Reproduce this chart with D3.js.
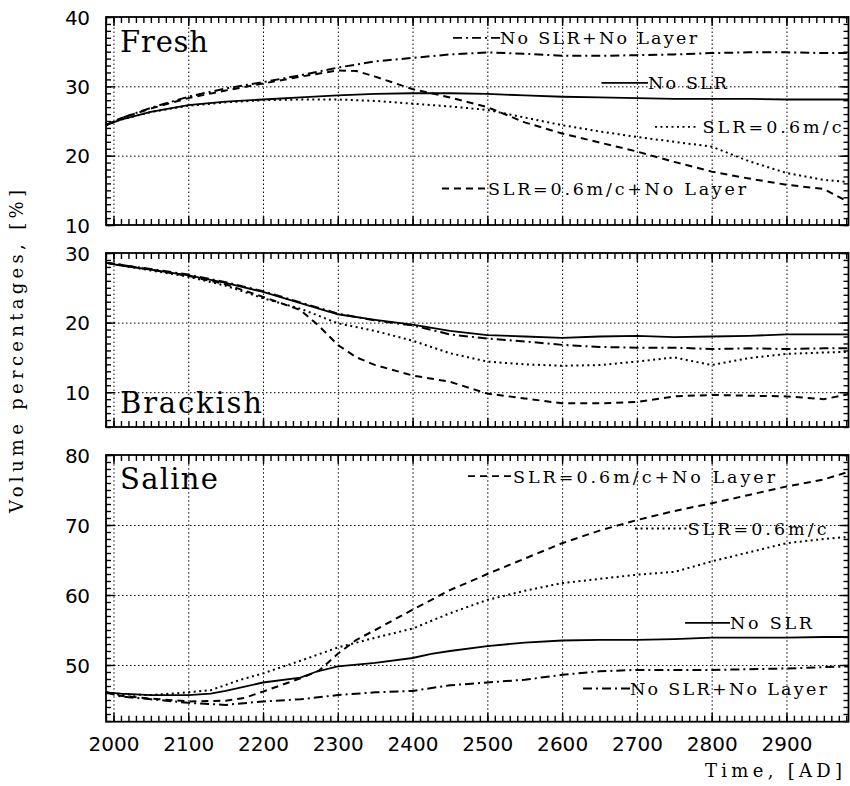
<!DOCTYPE html>
<html>
<head>
<meta charset="utf-8">
<script src="https://cdn.jsdelivr.net/npm/d3@7"></script>
<style>
  body { margin: 0; background: #fff; }
  svg { display: block; }
</style>
</head>
<body>
<svg width="850" height="786"></svg>
<script>
// ---- data ----
const seriesNames = ['No SLR', 'SLR=0.6m/c', 'SLR=0.6m/c+No Layer', 'No SLR+No Layer'];
const xTickYears = [2000, 2100, 2200, 2300, 2400, 2500, 2600, 2700, 2800, 2900];

// Fresh
const freshNoSLR = [[1990,24.4],[2010,25.2],[2050,26.3],[2100,27.3],[2150,27.8],[2200,28.1],[2250,28.4],[2300,28.7],[2350,28.9],[2400,29.0],[2450,29.0],[2500,28.9],[2550,28.7],[2600,28.5],[2650,28.4],[2700,28.3],[2750,28.2],[2800,28.2],[2850,28.2],[2900,28.1],[2950,28.1],[2983,28.1]];
const freshSLR = [[1990,24.4],[2010,25.2],[2050,26.3],[2100,27.2],[2150,27.7],[2200,28.0],[2250,28.1],[2300,28.1],[2350,27.9],[2400,27.5],[2450,27.1],[2500,26.6],[2550,25.5],[2600,24.4],[2650,23.5],[2700,22.7],[2750,22.0],[2800,21.3],[2850,19.2],[2900,17.5],[2950,16.5],[2983,16.2]];
const freshSLRNoLayer = [[1990,24.4],[2010,25.4],[2050,26.8],[2100,28.3],[2150,29.4],[2200,30.4],[2250,31.4],[2300,32.3],[2325,32.2],[2350,31.4],[2375,30.5],[2400,29.6],[2450,28.4],[2500,27.0],[2550,24.8],[2600,23.2],[2650,21.9],[2700,20.6],[2750,19.1],[2800,17.7],[2850,16.7],[2900,15.8],[2950,15.2],[2983,13.3]];
const freshNoSLRNoLayer = [[1990,24.4],[2010,25.4],[2050,26.9],[2100,28.5],[2150,29.7],[2200,30.6],[2250,31.6],[2300,32.7],[2350,33.6],[2400,34.1],[2450,34.6],[2500,34.9],[2550,34.7],[2600,34.4],[2650,34.4],[2700,34.5],[2750,34.6],[2800,34.8],[2850,34.9],[2900,34.9],[2950,34.8],[2983,34.8]];

// Brackish
const brackNoSLR = [[1990,28.6],[2010,28.2],[2050,27.6],[2100,26.8],[2150,25.7],[2200,24.4],[2250,22.8],[2300,21.2],[2350,20.4],[2400,19.7],[2450,18.8],[2500,18.2],[2550,18.0],[2600,17.8],[2650,18.0],[2700,18.1],[2750,17.9],[2800,18.0],[2850,18.1],[2900,18.3],[2950,18.3],[2983,18.3]];
const brackSLR = [[1990,28.6],[2010,28.2],[2050,27.5],[2100,26.6],[2150,25.3],[2200,23.5],[2250,22.0],[2300,19.9],[2350,18.8],[2400,17.4],[2450,15.6],[2500,14.4],[2550,14.0],[2600,13.8],[2650,13.9],[2700,14.4],[2750,15.0],[2800,13.9],[2850,14.9],[2900,15.5],[2950,15.7],[2983,15.8]];
const brackSLRNoLayer = [[1990,28.6],[2010,28.3],[2050,27.6],[2100,26.7],[2150,25.5],[2200,23.7],[2250,21.8],[2275,19.5],[2300,16.8],[2325,15.0],[2350,13.9],[2400,12.4],[2450,11.5],[2500,9.8],[2550,9.1],[2600,8.4],[2650,8.4],[2700,8.6],[2750,9.4],[2800,9.6],[2850,9.5],[2900,9.4],[2950,9.0],[2983,9.7]];
const brackNoSLRNoLayer = [[1990,28.6],[2010,28.3],[2050,27.7],[2100,26.9],[2150,25.8],[2200,24.5],[2250,22.9],[2300,21.3],[2350,20.3],[2400,19.6],[2450,18.3],[2500,17.7],[2550,17.3],[2600,16.8],[2650,16.5],[2700,16.4],[2750,16.4],[2800,16.2],[2850,16.3],[2900,16.2],[2950,16.3],[2983,16.3]];

// Saline
const salNoSLR = [[1990,46.1],[2010,45.9],[2050,45.7],[2100,45.7],[2130,45.9],[2150,46.3],[2200,47.5],[2250,48.2],[2270,49.0],[2300,49.8],[2350,50.3],[2400,51.0],[2425,51.6],[2450,52.0],[2500,52.7],[2550,53.2],[2600,53.5],[2650,53.6],[2700,53.6],[2750,53.7],[2800,53.9],[2850,53.9],[2900,53.9],[2950,54.0],[2983,54.0]];
const salSLR = [[1990,46.1],[2010,45.8],[2050,45.7],[2100,46.1],[2130,46.4],[2170,47.9],[2200,48.8],[2250,50.6],[2300,52.5],[2350,53.9],[2400,55.2],[2450,57.4],[2500,59.3],[2550,60.6],[2600,61.7],[2650,62.3],[2700,62.9],[2750,63.3],[2800,64.8],[2850,66.1],[2900,67.4],[2950,68.0],[2983,68.3]];
const salSLRNoLayer = [[1990,46.1],[2010,45.6],[2050,45.2],[2100,44.8],[2150,44.9],[2175,45.3],[2200,46.2],[2250,48.1],[2275,49.2],[2300,51.6],[2325,53.6],[2350,55.0],[2400,57.9],[2450,60.7],[2500,63.0],[2550,65.2],[2600,67.4],[2650,69.2],[2700,70.7],[2750,72.0],[2800,73.1],[2850,74.3],[2900,75.5],[2950,76.5],[2983,77.6]];
const salNoSLRNoLayer = [[1990,46.1],[2010,45.5],[2050,45.1],[2100,44.6],[2150,44.3],[2200,44.8],[2250,45.1],[2300,45.7],[2350,46.1],[2400,46.3],[2450,47.1],[2500,47.5],[2550,47.9],[2600,48.6],[2650,49.1],[2700,49.3],[2750,49.3],[2800,49.3],[2850,49.4],[2900,49.5],[2950,49.7],[2983,49.8]];

// ---- layout ----
const svg = d3.select('svg');
const left = 106, right = 848.5;
const serif = '"DejaVu Serif", "Liberation Serif", serif';
const sans = '"DejaVu Sans", "Liberation Sans", sans-serif';

const x = d3.scaleLinear().domain([1990, 2983]).range([left, right]);

const dash = {
  'No SLR': null,
  'SLR=0.6m/c': '2,3.5',
  'SLR=0.6m/c+No Layer': '7,5',
  'No SLR+No Layer': '9,4,2,4'
};

const panels = [
  { title: 'Fresh', titleY: 51.5, titleW: 88, top: 17, bottom: 225, domain: [10, 40], ticks: [10, 20, 30, 40],
    series: [freshNoSLR, freshSLR, freshSLRNoLayer, freshNoSLRNoLayer],
    legend: [
      { name: 'No SLR+No Layer', x0: 453, x1: 500, y: 44.3, w: 197 },
      { name: 'No SLR', x0: 601.5, x1: 648, y: 89.3, w: 79 },
      { name: 'SLR=0.6m/c', x0: 655, x1: 697, y: 133.3, w: 139, gap: 5.5 },
      { name: 'SLR=0.6m/c+No Layer', x0: 442, x1: 487, y: 195, w: 258, gap: 1 }
    ] },
  { title: 'Brackish', titleY: 413.3, titleW: 142, top: 253, bottom: 427, domain: [5, 30], ticks: [10, 20, 30],
    series: [brackNoSLR, brackSLR, brackSLRNoLayer, brackNoSLRNoLayer], legend: [] },
  { title: 'Saline', titleY: 489.3, titleW: 98, top: 455, bottom: 721.7, domain: [41.9, 80], ticks: [50, 60, 70, 80],
    series: [salNoSLR, salSLR, salSLRNoLayer, salNoSLRNoLayer],
    legend: [
      { name: 'SLR=0.6m/c+No Layer', x0: 468, x1: 513, y: 482.7, w: 262 },
      { name: 'SLR=0.6m/c', x0: 635, x1: 687.5, y: 535, w: 139 },
      { name: 'No SLR', x0: 685, x1: 730, y: 629.3, w: 82 },
      { name: 'No SLR+No Layer', x0: 583, x1: 630, y: 695, w: 197 }
    ] }
];

const minorYears = d3.range(1990, 2984, 10);

const strip = sel => sel.select('.domain').remove();

panels.forEach((p, pi) => {
  const y = d3.scaleLinear().domain(p.domain).range([p.bottom, p.top]);
  const h = p.bottom - p.top;
  const g = svg.append('g');

  // dotted grid
  const grid = g.append('g').attr('class', 'grid');
  grid.append('g')
      .attr('transform', `translate(0,${p.bottom})`)
      .call(d3.axisBottom(x).tickValues(xTickYears).tickSize(-h).tickFormat(''))
      .call(strip);
  grid.append('g')
      .attr('transform', `translate(${left},0)`)
      .call(d3.axisLeft(y).tickValues(p.ticks.filter(t => t > p.domain[0] && t < p.domain[1])).tickSize(-(right - left)).tickFormat(''))
      .call(strip);
  grid.selectAll('line')
      .attr('stroke', '#000')
      .attr('stroke-width', 1)
      .attr('stroke-dasharray', '1.5,2.5');

  // series
  const line = d3.line().x(d => x(d[0])).y(d => y(d[1]));
  p.series.forEach((s, i) => {
    g.append('path')
      .datum(s)
      .attr('d', line)
      .attr('fill', 'none')
      .attr('stroke', '#000')
      .attr('stroke-width', i === 0 ? 1.8 : 2)
      .attr('stroke-dasharray', dash[seriesNames[i]]);
  });

  // frame
  g.append('rect')
    .attr('x', left).attr('y', p.top)
    .attr('width', right - left).attr('height', h)
    .attr('fill', 'none').attr('stroke', '#000').attr('stroke-width', 1.8);

  // inward ticks on all four sides
  const minorY = d3.range(Math.ceil(p.domain[0]), p.domain[1] + 0.001, 1);
  const ticks = g.append('g').attr('class', 'ticks');
  [[6, minorYears], [9, xTickYears]].forEach(([len, vals]) => {
    ticks.append('g').attr('transform', `translate(0,${p.bottom})`)
      .call(d3.axisBottom(x).tickValues(vals).tickSize(-len).tickFormat('')).call(strip);
    ticks.append('g').attr('transform', `translate(0,${p.top})`)
      .call(d3.axisTop(x).tickValues(vals).tickSize(-len).tickFormat('')).call(strip);
  });
  [[5, minorY], [9, p.ticks]].forEach(([len, vals]) => {
    ticks.append('g').attr('transform', `translate(${left},0)`)
      .call(d3.axisLeft(y).tickValues(vals).tickSize(-len).tickFormat('')).call(strip);
    ticks.append('g').attr('transform', `translate(${right},0)`)
      .call(d3.axisRight(y).tickValues(vals).tickSize(-len).tickFormat('')).call(strip);
  });
  ticks.selectAll('line').attr('stroke', '#000').attr('stroke-width', 1.4);

  // y tick labels
  const yl = g.append('g')
    .attr('transform', `translate(${left},0)`)
    .call(d3.axisLeft(y).tickValues(p.ticks).tickSize(0).tickPadding(16).tickFormat(d3.format('d')))
    .call(strip);
  yl.selectAll('text')
    .attr('font-family', sans).attr('font-size', 20).attr('fill', '#000')
    .attr('dy', '0.36em')
    .attr('textLength', 25).attr('lengthAdjust', 'spacing');

  // panel title
  g.append('text')
    .attr('x', 120).attr('y', p.titleY)
    .attr('font-family', serif).attr('font-size', 29)
    .attr('textLength', p.titleW).attr('lengthAdjust', 'spacing')
    .text(p.title);

  // legend entries
  p.legend.forEach(l => {
    g.append('line')
      .attr('x1', l.x0).attr('x2', l.x1)
      .attr('y1', l.y - 6.5).attr('y2', l.y - 6.5)
      .attr('stroke', '#000').attr('stroke-width', 1.8)
      .attr('stroke-dasharray', dash[l.name]);
    g.append('text')
      .attr('x', l.x1 + (l.gap || 0)).attr('y', l.y)
      .attr('font-family', serif).attr('font-size', 17.5)
      .attr('textLength', l.w).attr('lengthAdjust', 'spacing')
      .text(l.name);
  });

  // x tick labels on the bottom panel
  if (pi === panels.length - 1) {
    const xl = g.append('g')
      .attr('transform', `translate(0,${p.bottom})`)
      .call(d3.axisBottom(x).tickValues(xTickYears).tickSize(0).tickPadding(15).tickFormat(d3.format('d')))
      .call(strip);
    xl.selectAll('text')
      .attr('font-family', sans).attr('font-size', 20).attr('fill', '#000')
      .attr('dy', '0.71em')
      .attr('textLength', 51).attr('lengthAdjust', 'spacing');
  }
});

// axis titles
svg.append('text')
  .attr('transform', 'translate(23,351.5) rotate(-90)')
  .attr('text-anchor', 'middle')
  .attr('font-family', serif).attr('font-size', 18)
  .attr('textLength', 323).attr('lengthAdjust', 'spacing')
  .text('Volume percentages, [%]');

svg.append('text')
  .attr('x', 842).attr('y', 777)
  .attr('text-anchor', 'end')
  .attr('font-family', serif).attr('font-size', 18)
  .attr('textLength', 137).attr('lengthAdjust', 'spacing')
  .text('Time, [AD]');
</script>
</body>
</html>
